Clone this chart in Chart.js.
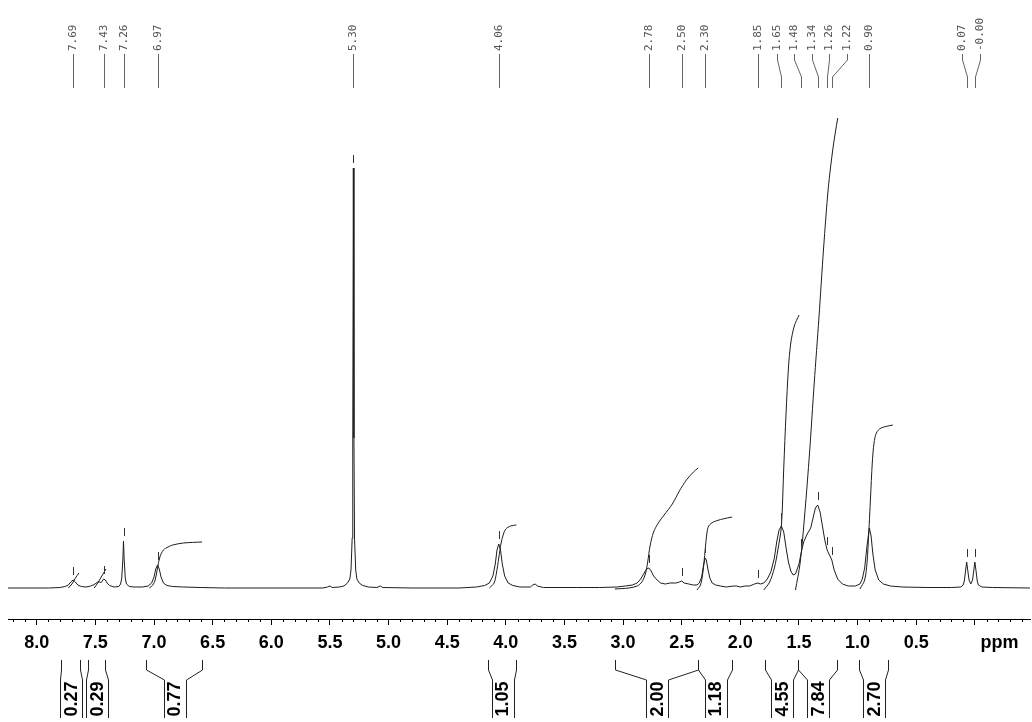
<!DOCTYPE html>
<html lang="en">
<head>
<meta charset="UTF-8">
<title>1H NMR</title>
<style>
  html, body { margin: 0; padding: 0; background: #fff; }
  #wrap { width: 1032px; height: 722px; position: relative; }
</style>
</head>
<body>
<div id="wrap">
  <canvas id="nmr"></canvas>
</div>

<script src="https://cdn.jsdelivr.net/npm/chart.js"></script>
<script>
// spectrum trace, ppm and height above baseline
var specPpm = [8.25, 7.90, 7.80, 7.76, 7.73, 7.71, 7.69, 7.67, 7.65, 7.62, 7.58, 7.54, 7.51, 7.48, 7.465, 7.45, 7.43, 7.415, 7.40, 7.38,
  7.34, 7.30, 7.285, 7.275, 7.265, 7.26, 7.255, 7.245, 7.235, 7.21, 7.17, 7.10, 7.05, 7.02, 7.00, 6.985, 6.97, 6.955, 6.94, 6.92,
  6.89, 6.84, 6.75, 6.60, 6.40, 5.56, 5.52, 5.50, 5.48, 5.42, 5.38, 5.35, 5.33, 5.32, 5.31, 5.305, 5.30, 5.295, 5.29, 5.28,
  5.27, 5.25, 5.22, 5.17, 5.10, 5.07, 5.05, 4.80, 4.40, 4.25, 4.18, 4.14, 4.11, 4.09, 4.075, 4.06, 4.045, 4.03, 4.01, 3.98,
  3.94, 3.88, 3.79, 3.77, 3.75, 3.73, 3.68, 3.40, 3.20, 3.05, 2.98, 2.92, 2.88, 2.85, 2.82, 2.80, 2.78, 2.76, 2.74, 2.71,
  2.68, 2.64, 2.60, 2.55, 2.52, 2.50, 2.48, 2.44, 2.40, 2.37, 2.35, 2.33, 2.315, 2.30, 2.29, 2.275, 2.26, 2.24, 2.21, 2.17,
  2.12, 2.06, 2.03, 2.00, 1.96, 1.92, 1.88, 1.85, 1.83, 1.80, 1.77, 1.74, 1.71, 1.69, 1.67, 1.65, 1.63, 1.61, 1.59, 1.57,
  1.55, 1.53, 1.50, 1.48, 1.46, 1.43, 1.40, 1.38, 1.36, 1.34, 1.32, 1.30, 1.28, 1.26, 1.24, 1.22, 1.20, 1.17, 1.13, 1.08,
  1.02, 0.98, 0.96, 0.94, 0.92, 0.90, 0.885, 0.87, 0.85, 0.82, 0.78, 0.72, 0.62, 0.40, 0.20, 0.12, 0.10, 0.09, 0.08, 0.07,
  0.06, 0.05, 0.035, 0.02, 0.01, 0.00, -0.01, -0.02, -0.03, -0.06, -0.15, -0.47];
var specInt = [0, 0, 0.5, 1.5, 3, 6, 8, 6, 3, 1.5, 1, 2, 3.5, 6, 6, 5.5, 9, 8, 5, 2.5,
  1, 1.5, 4, 10, 30, 47, 30, 10, 4, 1.5, 1, 1, 2, 5, 11, 19, 23, 19, 11, 5,
  2.5, 1.5, 1, 0.5, 0, 0, 1, 2, 0.5, 1, 2, 5, 9, 18, 50, 150, 420, 150, 50, 18,
  9, 5, 2.5, 1, 0.5, 2, 0.5, 0, 0, 1, 2.5, 5, 12, 24, 38, 44, 38, 24, 12, 5,
  2.5, 1, 1, 3, 4, 2, 0.5, 0.5, 0.5, 1, 2, 3, 5, 9, 15, 19, 20, 17, 12, 8,
  5, 4, 5, 5, 6, 7, 5, 4, 3, 3, 5, 11, 22, 30, 28, 18, 10, 5, 3, 2,
  1, 2, 2, 1, 2, 2, 4, 5, 4, 5, 9, 16, 30, 46, 58, 62, 56, 40, 26, 17,
  13, 14, 24, 36, 46, 54, 60, 70, 80, 83, 76, 62, 48, 38, 33, 28, 18, 9, 4, 2,
  2, 4, 9, 20, 42, 60, 52, 34, 18, 8, 4, 2, 1, 0.5, 0.5, 1, 3, 7, 17, 26,
  17, 8, 4, 8, 17, 26, 17, 7, 3, 1, 0.5, 0];

// picked peaks
var peakPpm = [7.69, 7.43, 7.26, 6.97, 5.30, 4.06, 2.78, 2.50, 2.30, 1.85, 1.65, 1.48, 1.34, 1.26, 1.22, 0.90, 0.07, 0.00];
var peakText = ['7.69', '7.43', '7.26', '6.97', '5.30', '4.06', '2.78', '2.50', '2.30', '1.85', '1.65', '1.48', '1.34', '1.26', '1.22', '0.90', '0.07', '-0.00'];

// integral regions and values
var integralFrom = [7.79, 7.56, 7.07, 4.15, 3.07, 2.36, 1.79, 1.51, 0.99];
var integralTo = [7.63, 7.42, 6.59, 3.91, 2.36, 2.07, 1.51, 1.18, 0.74];
var integralText = ['0.27', '0.29', '0.77', '1.05', '2.00', '1.18', '4.55', '7.84', '2.70'];

// integral traces (ppm / height)
var integralCurvePpm = [
  [7.73, 7.70, 7.67, 7.64],
  [7.51, 7.48, 7.44, 7.41],
  [7.04, 7.01, 6.99, 6.97, 6.95, 6.92, 6.88, 6.84, 6.75, 6.59],
  [4.14, 4.10, 4.08, 4.06, 4.04, 4.02, 4.00, 3.96, 3.91],
  [3.07, 2.95, 2.88, 2.84, 2.81, 2.79, 2.77, 2.74, 2.70, 2.65, 2.58, 2.52, 2.46, 2.40, 2.36],
  [2.37, 2.34, 2.32, 2.30, 2.285, 2.27, 2.23, 2.15, 2.07],
  [1.80, 1.75, 1.71, 1.68, 1.65, 1.63, 1.61, 1.59, 1.57, 1.54, 1.50],
  [1.53, 1.49, 1.45, 1.41, 1.37, 1.33, 1.29, 1.25, 1.21, 1.17],
  [0.98, 0.94, 0.92, 0.905, 0.89, 0.875, 0.86, 0.84, 0.80, 0.70]
];
var integralCurveH = [
  [0, 4, 10, 15],
  [0, 5, 13, 19],
  [0, 3, 8, 20, 31, 38, 41, 43, 45, 46],
  [0, 5, 15, 30, 45, 54, 59, 62, 63],
  [-1, 0, 2, 6, 14, 26, 42, 56, 65, 73, 84, 97, 108, 116, 120],
  [-2, 3, 15, 38, 55, 62, 66, 69, 71],
  [-2, 6, 20, 38, 62, 120, 175, 220, 245, 262, 273],
  [-2, 25, 75, 135, 205, 270, 340, 400, 440, 470],
  [-1, 8, 25, 55, 90, 125, 145, 155, 160, 163]
];

var xMin = -0.47, xMax = 8.245;

function toPoints(xs, ys) {
  var pts = [];
  for (var i = 0; i < xs.length; i++) pts.push({x: xs[i], y: ys[i]});
  return pts;
}

function specAt(p) {
  for (var i = 0; i < specPpm.length - 1; i++) {
    var a = specPpm[i], b = specPpm[i + 1];
    if (p <= a && p >= b) {
      var t = (a - p) / (a - b);
      return specInt[i] + t * (specInt[i + 1] - specInt[i]);
    }
  }
  return 0;
}

// spread crowded peak labels (px sorted ascending) so they keep a minimum gap
function spreadLabels(px, gap) {
  var cl = [];
  px.forEach(function (p, i) {
    cl.push({idx: [i], sum: p});
    while (cl.length > 1) {
      var a = cl[cl.length - 2], b = cl[cl.length - 1];
      var aEnd = a.sum / a.idx.length + (a.idx.length - 1) / 2 * gap;
      var bStart = b.sum / b.idx.length - (b.idx.length - 1) / 2 * gap;
      if (bStart - aEnd < gap - 0.01) {
        a.idx = a.idx.concat(b.idx);
        a.sum += b.sum;
        cl.pop();
      } else break;
    }
  });
  var pos = [];
  cl.forEach(function (c) {
    var n = c.idx.length, m = c.sum / n;
    c.idx.forEach(function (k, j) { pos[k] = m + (j - (n - 1) / 2) * gap; });
  });
  return pos;
}

var datasets = [{
  data: toPoints(specPpm, specInt),
  showLine: true,
  borderColor: '#1e1e1e',
  borderWidth: 1,
  pointRadius: 0,
  tension: 0
}];
for (var k = 0; k < integralCurvePpm.length; k++) {
  datasets.push({
    data: toPoints(integralCurvePpm[k], integralCurveH[k]),
    showLine: true,
    borderColor: '#1e1e1e',
    borderWidth: 1,
    pointRadius: 0,
    tension: 0.3
  });
}

var nmrDecor = {
  id: 'nmrDecor',
  afterDraw: function (chart) {
    var ctx = chart.ctx;
    var xs = chart.scales.x, ys = chart.scales.y;
    var axisY = xs.top;

    ctx.save();
    ctx.lineWidth = 1;

    // minor ticks every 0.1 ppm
    ctx.strokeStyle = '#000';
    ctx.beginPath();
    for (var m = -4; m <= 82; m++) {
      if (m % 5 === 0) continue;
      var v = m / 10;
      if (v < xMin || v > xMax) continue;
      var px = Math.round(xs.getPixelForValue(v)) + 0.5;
      ctx.moveTo(px, axisY);
      ctx.lineTo(px, axisY + 3);
    }
    ctx.stroke();

    // ppm unit
    ctx.fillStyle = '#000';
    ctx.font = 'bold 18px "Liberation Sans", Arial, sans-serif';
    ctx.textAlign = 'center';
    ctx.textBaseline = 'middle';
    ctx.fillText('ppm', xs.getPixelForValue(-0.21), axisY + 6 + 7 + 10.8);

    // peak pick markers
    ctx.strokeStyle = '#333';
    ctx.beginPath();
    peakPpm.forEach(function (p) {
      var px = Math.round(xs.getPixelForValue(p)) + 0.5;
      var py = ys.getPixelForValue(specAt(p));
      ctx.moveTo(px, py - 5);
      ctx.lineTo(px, py - 13);
    });
    ctx.stroke();

    // peak labels at the top
    var peakPx = peakPpm.map(function (p) { return xs.getPixelForValue(p); });
    var order = peakPx.map(function (v, i) { return i; }).sort(function (a, b) { return peakPx[a] - peakPx[b]; });
    var sortedPx = order.map(function (i) { return peakPx[i]; });
    var spread = spreadLabels(sortedPx, 17.5);
    var labelPx = [];
    order.forEach(function (i, j) { labelPx[i] = Math.round(spread[j]) + 0.5; });

    ctx.strokeStyle = '#666';
    ctx.beginPath();
    peakPpm.forEach(function (p, i) {
      var top = labelPx[i], bot = Math.round(peakPx[i]) + 0.5;
      ctx.moveTo(top, 54);
      ctx.lineTo(top, 60);
      ctx.lineTo(bot, 77);
      ctx.lineTo(bot, 88);
    });
    ctx.stroke();

    ctx.fillStyle = '#555';
    ctx.font = '11px "DejaVu Sans Mono", monospace';
    ctx.textAlign = 'left';
    ctx.textBaseline = 'middle';
    peakText.forEach(function (t, i) {
      ctx.save();
      ctx.translate(labelPx[i], 51);
      ctx.rotate(-Math.PI / 2);
      ctx.fillText(t, 0, 0);
      ctx.restore();
    });

    // integral brackets and values
    ctx.strokeStyle = '#222';
    ctx.fillStyle = '#000';
    ctx.font = 'bold 18px "Liberation Sans", Arial, sans-serif';
    ctx.textAlign = 'center';
    ctx.textBaseline = 'middle';
    integralFrom.forEach(function (f, i) {
      var xl = Math.round(xs.getPixelForValue(f)) + 0.5;
      var xr = Math.round(xs.getPixelForValue(integralTo[i])) + 0.5;
      var c = (xl + xr) / 2;
      var bl = Math.round(c - 11) + 0.5, br = Math.round(c + 11) + 0.5;
      ctx.beginPath();
      ctx.moveTo(xl, 660); ctx.lineTo(xl, 670); ctx.lineTo(bl, 680); ctx.lineTo(bl, 718);
      ctx.moveTo(xr, 660); ctx.lineTo(xr, 670); ctx.lineTo(br, 680); ctx.lineTo(br, 718);
      ctx.stroke();
      ctx.save();
      ctx.translate(c + 1, 699);
      ctx.rotate(-Math.PI / 2);
      ctx.fillText(integralText[i], 0, 0);
      ctx.restore();
    });

    ctx.restore();
  }
};

new Chart(document.getElementById('nmr'), {
  type: 'scatter',
  data: { datasets: datasets },
  options: {
    responsive: true,
    maintainAspectRatio: false,
    animation: false,
    layout: { padding: { left: 8, right: 2, top: 0, bottom: 63 } },
    plugins: { legend: { display: false }, tooltip: { enabled: false } },
    scales: {
      x: {
        type: 'linear',
        reverse: true,
        min: xMin,
        max: xMax,
        afterFit: function (scale) { scale.height = 40; },
        border: { display: true, color: '#000', width: 1 },
        grid: { display: true, drawOnChartArea: false, drawTicks: true, tickLength: 6, tickColor: '#000', tickWidth: 1 },
        ticks: {
          stepSize: 0.5,
          includeBounds: false,
          autoSkip: false,
          maxRotation: 0,
          padding: 7,
          color: '#000',
          font: { family: '"Liberation Sans", Arial, sans-serif', size: 18, weight: 'bold' },
          callback: function (v) { return Math.abs(v) < 1e-9 ? '' : v.toFixed(1); }
        }
      },
      y: {
        display: false,
        min: -31,
        max: 588
      }
    }
  },
  plugins: [nmrDecor]
});
</script>
</body>
</html>
